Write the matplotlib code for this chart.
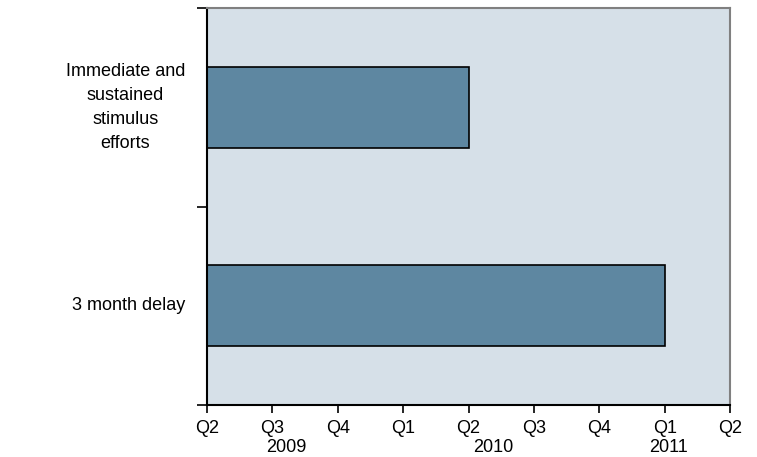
import matplotlib
matplotlib.use("Agg")
import matplotlib.pyplot as plt
from matplotlib.ticker import FixedLocator, NullFormatter

plt.rcParams['font.family'] = ['Liberation Sans', 'DejaVu Sans']

categories = ["Immediate and\nsustained\nstimulus\nefforts", "3 month delay"]
quarters_elapsed = [4, 7]  # quarters after Q2 2009
quarter_labels = ["Q2", "Q3", "Q4", "Q1", "Q2", "Q3", "Q4", "Q1", "Q2"]
year_labels = ["2009", "2010", "2011"]
year_pos = [1.22, 4.38, 7.06]

FS = 13
W, H = 757, 457
fig = plt.figure(figsize=(W/100, H/100), dpi=100)
ax = fig.add_axes([207/W, (H-405)/H, (730-207)/W, (405-8)/H])
ax.set_facecolor('#D6E0E8')

ypos = list(range(len(categories)))
ax.barh(ypos, quarters_elapsed, height=0.41, color='#5E87A1', edgecolor='black', linewidth=1.2)

ax.set_xlim(0, len(quarter_labels) - 1)
ax.set_ylim(len(categories) - 0.5, -0.5)

ax.set_xticks(range(len(quarter_labels)))
ax.set_xticklabels(quarter_labels, fontsize=FS)
ax.tick_params(axis='x', direction='out', length=6, width=1.2, pad=5, color='black')

ax.set_yticks(ypos)
ax.yaxis.set_major_formatter(NullFormatter())
ax.tick_params(axis='y', which='major', length=0)
ax.yaxis.set_minor_locator(FixedLocator([-0.5, 0.5, 1.5]))
ax.tick_params(axis='y', which='minor', direction='out', length=7, width=1.2, color='black')

for cat, yp in zip(categories, ypos):
    ax.text(-22/(730-207), yp, cat, transform=ax.get_yaxis_transform(),
            ha='right', va='center', multialignment='center', fontsize=FS, linespacing=1.55)

for yl, xp in zip(year_labels, year_pos):
    ax.text(xp, -(447-405)/(405-8), yl, transform=ax.get_xaxis_transform(),
            ha='center', va='center', fontsize=FS)

ax.spines['left'].set_color('black')
ax.spines['bottom'].set_color('black')
ax.spines['left'].set_linewidth(1.5)
ax.spines['bottom'].set_linewidth(1.5)
ax.spines['top'].set_color('#808080')
ax.spines['right'].set_color('#808080')
ax.spines['top'].set_linewidth(1.5)
ax.spines['right'].set_linewidth(1.5)

fig.savefig("out.png", dpi=100)
